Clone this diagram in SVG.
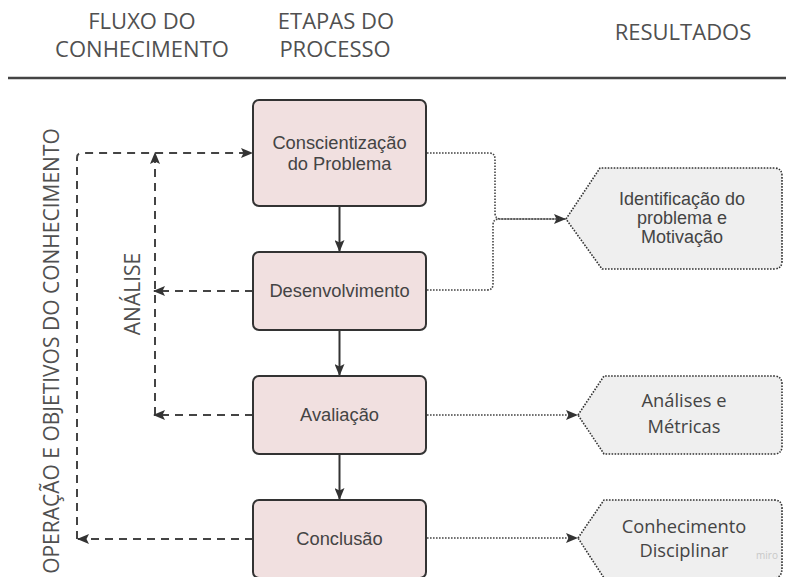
<svg xmlns="http://www.w3.org/2000/svg" width="786" height="577" viewBox="0 0 786 577">
<style>
.hdr{font-family:"Open Sans","DejaVu Sans",sans-serif;font-size:22px;fill:#505050;text-anchor:middle}
.vlab{font-family:"Open Sans","DejaVu Sans",sans-serif;font-size:21px;fill:#505050;text-anchor:middle}
.box{fill:#f1e0e0;stroke:#333;stroke-width:2}
.btxt{font-family:"Liberation Sans",Arial,sans-serif;font-size:18.3px;fill:#444;text-anchor:middle}
.res{fill:#efefef;stroke:#333;stroke-width:1.6;stroke-dasharray:1.6 1.4}
.rtxt{font-family:"Liberation Sans",Arial,sans-serif;font-size:18px;fill:#444;text-anchor:middle}
.otxt{font-family:"Open Sans","DejaVu Sans",sans-serif;font-size:18.3px;fill:#444;text-anchor:middle}
.solid{fill:none;stroke:#333;stroke-width:2}
.dash{fill:none;stroke:#444;stroke-width:2;stroke-dasharray:8 6}
.dot{fill:none;stroke:#444;stroke-width:1.6;stroke-dasharray:1.6 1.4}
</style>
<defs>
<marker id="ah" viewBox="0 0 12 10" refX="11" refY="5" markerWidth="12" markerHeight="10" markerUnits="userSpaceOnUse" orient="auto">
<path d="M0,0 L12,5 L0,10 L2.5,5 Z" fill="#333"/>
</marker>
</defs>
<rect width="786" height="577" fill="#fff"/>
<g id="header">
<text class="hdr" x="142" y="29">FLUXO DO</text>
<text class="hdr" x="142" y="57">CONHECIMENTO</text>
<text class="hdr" x="336" y="29">ETAPAS DO</text>
<text class="hdr" x="335" y="57">PROCESSO</text>
<text class="hdr" x="683" y="40">RESULTADOS</text>
<line x1="8" y1="78" x2="786" y2="78" stroke="#444" stroke-width="2.5"/>
</g>
<g id="label-operacao">
<text class="vlab" transform="translate(59,351) rotate(-90)">OPERAÇÃO E OBJETIVOS DO CONHECIMENTO</text>
</g>
<g id="label-analise">
<text class="vlab" transform="translate(140,294) rotate(-90)">ANÁLISE</text>
</g>
<g id="connectors">
<path class="solid" d="M339.5,206 V251" marker-end="url(#ah)"/>
<path class="solid" d="M339.5,330 V375" marker-end="url(#ah)"/>
<path class="solid" d="M339.5,454 V499" marker-end="url(#ah)"/>
<path class="dash" d="M77,539 V158 Q77,153 82,153 H252" marker-end="url(#ah)"/>
<path class="dash" d="M253,539 H78" marker-end="url(#ah)"/>
<path class="dash" d="M155,415 V153" marker-end="url(#ah)"/>
<path class="dash" d="M253,291 H154" marker-end="url(#ah)"/>
<path class="dash" d="M253,415 H154" marker-end="url(#ah)"/>
<path class="dot" d="M427,153 H489 Q495,153 495,159 V213 Q495,219 501,219 H565" marker-end="url(#ah)"/>
<path class="dot" d="M427,290 H487 Q493,290 493,284 V225 Q493,219 499,219 H560"/>
<path class="dot" d="M427,415 H577" marker-end="url(#ah)"/>
<path class="dot" d="M427,538 H577" marker-end="url(#ah)"/>
</g>
<g id="node-conscientizacao">
<rect class="box" x="253" y="100" width="173" height="106" rx="6"/>
<text class="btxt" x="339.5" y="149">Conscientização</text>
<text class="btxt" x="339.5" y="170">do Problema</text>
</g>
<g id="node-desenvolvimento">
<rect class="box" x="253" y="252" width="173" height="78" rx="6"/>
<text class="btxt" x="339.5" y="297">Desenvolvimento</text>
</g>
<g id="node-avaliacao">
<rect class="box" x="253" y="376" width="173" height="78" rx="6"/>
<text class="btxt" x="339.5" y="421">Avaliação</text>
</g>
<g id="node-conclusao">
<rect class="box" x="253" y="500" width="173" height="78" rx="6"/>
<text class="btxt" x="339.5" y="545">Conclusão</text>
</g>
<g id="result-identificacao">
<path class="res" d="M566,219 L600,168 H774 Q782,168 782,176 V261 Q782,269 774,269 H602 Z"/>
<text class="rtxt" x="682" y="205">Identificação do</text>
<text class="rtxt" x="682" y="224">problema e</text>
<text class="rtxt" x="682" y="243">Motivação</text>
</g>
<g id="result-analises">
<path class="res" d="M578,415 L604,376 H774 Q782,376 782,384 V446 Q782,454 774,454 H604 Z"/>
<text class="otxt" x="684" y="407">Análises e</text>
<text class="otxt" x="684" y="433">Métricas</text>
</g>
<g id="result-conhecimento">
<path class="res" d="M578,538 L604,500 H774 Q782,500 782,508 V568 Q782,578 774,578 H604 Z"/>
<text class="otxt" x="684" y="533">Conhecimento</text>
<text class="otxt" x="684" y="557">Disciplinar</text>
</g>
<text x="767" y="559" font-family="'Open Sans','DejaVu Sans',sans-serif" font-size="10px" fill="#c8c8c8" text-anchor="middle">miro</text>
</svg>
